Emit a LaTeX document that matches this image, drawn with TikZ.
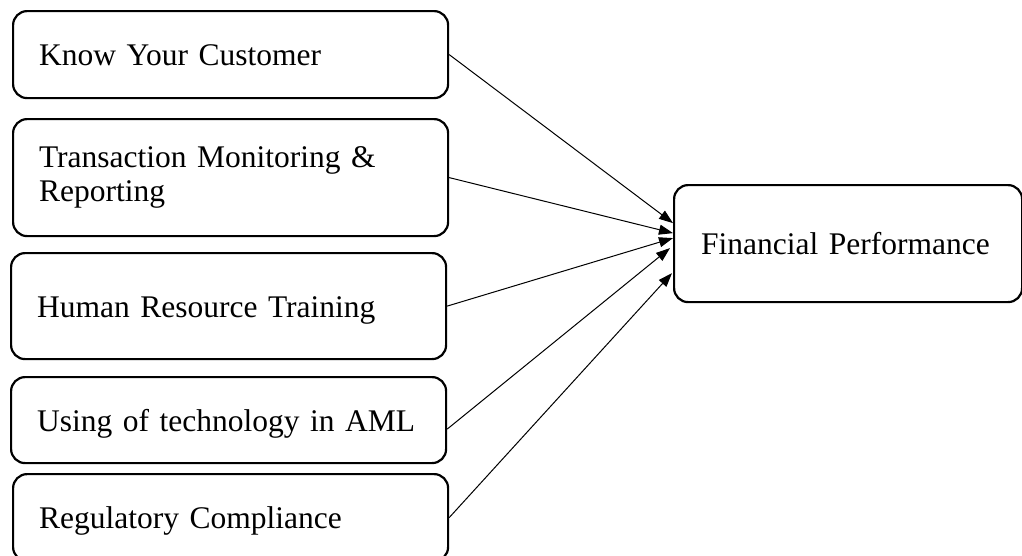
\documentclass[tikz,border=0pt]{standalone}
\usepackage{fontspec}
\setmainfont{Liberation Serif}
\usetikzlibrary{arrows.meta,calc}
\begin{document}
\begin{tikzpicture}[x=1pt,y=-1pt,
  box/.style={draw, line width=2.2pt, rounded corners=14pt, anchor=north west,
    inner xsep=26pt, inner ysep=0pt, align=left,
    font=\fontsize{31.5}{34}\selectfont},
  oneline/.style={box, text height=22pt, text depth=0pt},
  link/.style={line width=1pt, -{Triangle[length=14pt,width=10pt]}}]
  \useasboundingbox (0,0) rectangle (1022,555);
  \clip (0,0) rectangle (1022,555);
  % factor boxes on the left
  \node[oneline, text width=383pt, minimum height=87pt]  (kyc) at (12,10)  {Know Your Customer};
  \node[box, text width=383pt, minimum height=117pt]     (tmr) at (12,118) {Transaction Monitoring \&\\Reporting};
  \node[oneline, text width=383pt, minimum height=106pt] (hrt) at (10,252) {Human Resource Training};
  \node[oneline, text width=383pt, minimum height=86pt]  (tec) at (10,376) {Using of technology in AML};
  \node[oneline, text width=383pt, minimum height=87pt]  (reg) at (12,473) {Regulatory Compliance};
  % outcome box on the right
  \node[oneline, inner xsep=27pt, text width=294pt, minimum height=117pt] (fin) at (673,184) {Financial Performance};
  % arrow end points on the outcome box
  \coordinate (e1) at ($(fin.west)+(0,-20.5)$);
  \coordinate (e2) at ($(fin.west)+(0,-10.5)$);
  \coordinate (e3) at ($(fin.west)+(0,-5.5)$);
  \coordinate (e4) at ($(fin.west)+(-3,4.5)$);
  \coordinate (e5) at ($(fin.west)+(-1,29.5)$);
  \draw[link] (kyc.east) -- (e1);
  \draw[link] (tmr.east) -- (e2);
  \draw[link] (hrt.east) -- (e3);
  \draw[link] ($(tec.east)+(0,9)$) -- (e4);
  \draw[link] (reg.east) -- (e5);
\end{tikzpicture}
\end{document}
